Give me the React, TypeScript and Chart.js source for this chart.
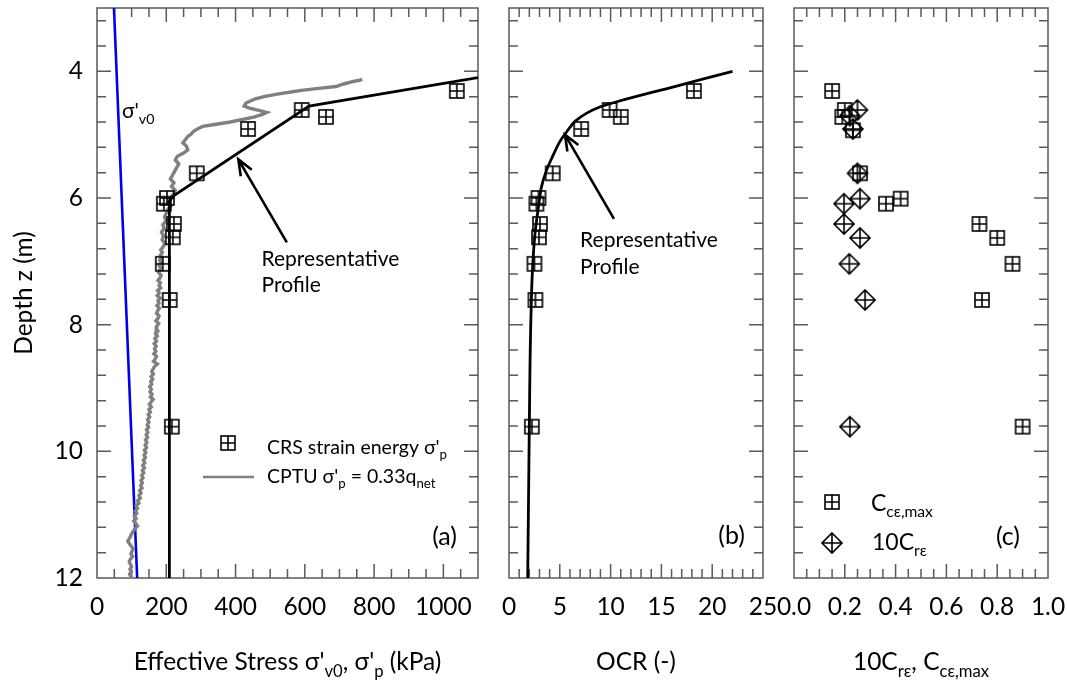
import React, { useEffect, useRef } from 'react';
import { Chart, registerables } from 'chart.js';
Chart.register(...registerables);

const W = 1067;
const H = 681;
const TOP = 8;
const BOTTOM = 578;
const FONT = 'Lato, "Open Sans", "DejaVu Sans", sans-serif';
const TICK_SIZE = 24.5;
const TITLE_SIZE = 24.5;
const NOTE_SIZE = 21;
const LEG_SIZE = 19.5;
const AXIS_COLOR = '#5a5a5a';

// ---------- data ----------
const depthMin = 3;
const depthMax = 12;
const depthTickLabels = [4, 6, 8, 10, 12];

const stressTicks = [0, 200, 400, 600, 800, 1000];
const ocrTicks = [0, 5, 10, 15, 20, 25];
const coefTicks = [0, 0.2, 0.4, 0.6, 0.8, 1.0];

// sigma'v0 line
const sv0Depth = [3, 12];
const sv0Stress = [49, 116];

// representative sigma'p profile
const profDepth = [4.1, 4.55, 5.97, 6.05, 12];
const profStress = [1100, 612, 220, 209, 209];

// CRS strain energy sigma'p
const crsDepth = [4.31, 4.61, 4.72, 4.91, 5.61, 6.0, 6.09, 6.41, 6.62, 7.04, 7.61, 9.61];
const crsStress = [1039, 591, 661, 436, 288, 202, 193, 222, 219, 190, 210, 216];
const crsOCR = [18.2, 9.9, 11.0, 7.1, 4.3, 2.9, 2.7, 3.05, 2.95, 2.5, 2.6, 2.25];

// CPTU sigma'p = 0.33 qnet
const cptuDepth = [
  4.13, 4.16, 4.2, 4.24, 4.27, 4.3, 4.33, 4.36, 4.4, 4.44, 4.5, 4.55, 4.58, 4.62, 4.65, 4.68, 4.72, 4.76,
  4.8, 4.84, 4.87, 4.91, 4.95, 4.99, 5.03, 5.08, 5.13, 5.18, 5.24, 5.29, 5.34, 5.4, 5.46, 5.52, 5.58, 5.64,
  5.7, 5.76, 5.82, 5.88, 5.94, 6.0, 6.06, 6.12, 6.18, 6.24, 6.3, 6.36, 6.42, 6.48, 6.54, 6.6, 6.66, 6.72,
  6.78, 6.82, 6.86, 6.9, 6.94, 6.98, 7.02, 7.06, 7.1, 7.14, 7.18, 7.22, 7.26, 7.3, 7.34, 7.38, 7.42, 7.46,
  7.5, 7.54, 7.58, 7.62, 7.66, 7.7, 7.74, 7.78, 7.82, 7.86, 7.9, 7.94, 7.98, 8.02, 8.06, 8.1, 8.14, 8.18,
  8.22, 8.26, 8.3, 8.34, 8.38, 8.42, 8.46, 8.5, 8.54, 8.58, 8.62, 8.66, 8.7, 8.74, 8.78, 8.82, 8.86, 8.9,
  8.94, 8.98, 9.02, 9.06, 9.1, 9.14, 9.18, 9.22, 9.26, 9.3, 9.34, 9.38, 9.42, 9.46, 9.5, 9.54, 9.58, 9.62,
  9.66, 9.7, 9.74, 9.78, 9.82, 9.86, 9.9, 9.94, 9.98, 10.02, 10.06, 10.1, 10.14, 10.18, 10.22, 10.26, 10.3,
  10.34, 10.38, 10.42, 10.46, 10.5, 10.54, 10.58, 10.62, 10.66, 10.7, 10.74, 10.78, 10.82, 10.86, 10.9,
  10.94, 10.98, 11.02, 11.06, 11.1, 11.14, 11.18, 11.22, 11.26, 11.3, 11.34, 11.38, 11.42, 11.46, 11.5,
  11.54, 11.58, 11.62, 11.66, 11.7, 11.74, 11.78, 11.82, 11.86, 11.9, 11.94, 11.98, 12.0,
];
const cptuStress = [
  766, 740, 712, 690, 640, 590, 555, 520, 482, 455, 430, 425, 440, 470, 490, 478, 455, 420,
  385, 340, 305, 290, 278, 272, 262, 255, 248, 258, 262, 250, 232, 226, 236, 230, 224, 218,
  212, 222, 215, 226, 220, 212, 206, 214, 204, 200, 195, 200, 190, 194, 186, 192, 188, 196,
  190, 184, 189, 183, 188, 181, 186, 179, 184, 181, 178, 185, 182, 176, 183, 179, 184, 175,
  180, 174, 182, 176, 179, 173, 180, 175, 172, 179, 176, 170, 178, 173, 171, 176, 169, 174,
  167, 172, 165, 171, 166, 170, 164, 172, 168, 163, 174, 166, 162, 158, 163, 156, 161, 155,
  158, 152, 157, 153, 159, 154, 162, 156, 151, 157, 150, 154, 148, 152, 146, 150, 145, 149,
  143, 147, 142, 146, 140, 144, 139, 143, 137, 141, 136, 140, 134, 138, 132, 137, 131,
  135, 129, 133, 127, 131, 126, 130, 123, 127, 121, 125, 117, 121, 113, 117,
  111, 115, 108, 113, 106, 112, 117, 110, 105, 100, 97, 93, 89, 94, 99,
  104, 101, 98, 103, 97, 93, 96, 100, 95, 99, 94, 98, 101,
];

// OCR representative curve
const ocrCurveDepth = [4.0, 4.24, 4.48, 4.56, 4.66, 4.79, 4.95, 5.11, 5.32, 5.56, 5.82, 6.14, 6.56, 7.08, 7.61, 8.5, 9.61, 10.8, 12.0];
const ocrCurveValue = [22.0, 16.3, 10.6, 9.0, 7.65, 6.5, 5.7, 5.0, 4.36, 3.7, 3.2, 2.9, 2.56, 2.33, 2.2, 2.08, 2.0, 1.92, 1.84];

// Cce,max and 10Cre
const cceDepth = [4.31, 4.61, 4.72, 4.93, 5.61, 6.01, 6.09, 6.41, 6.63, 7.04, 7.61, 9.61];
const cceValue = [0.15, 0.2, 0.19, 0.232, 0.26, 0.42, 0.362, 0.73, 0.8, 0.86, 0.74, 0.9];
const creDepth = [4.61, 4.7, 4.91, 5.61, 6.01, 6.09, 6.41, 6.63, 7.04, 7.61, 9.61];
const creValue = [0.25, 0.22, 0.232, 0.25, 0.26, 0.197, 0.197, 0.26, 0.218, 0.28, 0.22];

// ---------- helpers ----------
type Seg = { t: string; sub?: boolean };

const pts = (xs: number[], ys: number[]) => xs.map((x, i) => ({ x, y: ys[i] }));

function squareMarker(): HTMLCanvasElement {
  const c = document.createElement('canvas');
  c.width = 18;
  c.height = 18;
  const g = c.getContext('2d')!;
  g.strokeStyle = '#000';
  g.lineWidth = 1.6;
  g.strokeRect(2, 2, 14, 14);
  g.beginPath();
  g.moveTo(9, 2);
  g.lineTo(9, 16);
  g.moveTo(2, 9);
  g.lineTo(16, 9);
  g.stroke();
  return c;
}

function diamondMarker(): HTMLCanvasElement {
  const c = document.createElement('canvas');
  c.width = 24;
  c.height = 24;
  const g = c.getContext('2d')!;
  g.strokeStyle = '#000';
  g.lineWidth = 1.6;
  g.beginPath();
  g.moveTo(12, 2);
  g.lineTo(22, 12);
  g.lineTo(12, 22);
  g.lineTo(2, 12);
  g.closePath();
  g.moveTo(12, 2);
  g.lineTo(12, 22);
  g.moveTo(2, 12);
  g.lineTo(22, 12);
  g.stroke();
  return c;
}

function fontOf(size: number) {
  return `${size}px ${FONT}`;
}

function drawRich(ctx: CanvasRenderingContext2D, x: number, y: number, segs: Seg[], size: number, align: 'left' | 'center' | 'right' = 'left') {
  ctx.save();
  ctx.textAlign = 'left';
  ctx.textBaseline = 'alphabetic';
  ctx.fillStyle = '#000';
  let w = 0;
  for (const s of segs) {
    ctx.font = fontOf(s.sub ? size * 0.68 : size);
    w += ctx.measureText(s.t).width;
  }
  let cx = align === 'center' ? x - w / 2 : align === 'right' ? x - w : x;
  for (const s of segs) {
    const sz = s.sub ? size * 0.68 : size;
    ctx.font = fontOf(sz);
    ctx.fillText(s.t, cx, y + (s.sub ? size * 0.28 : 0));
    cx += ctx.measureText(s.t).width;
  }
  ctx.restore();
}

function drawArrow(ctx: CanvasRenderingContext2D, x0: number, y0: number, x1: number, y1: number) {
  const ang = Math.atan2(y1 - y0, x1 - x0);
  const L = 17;
  const h = (22 * Math.PI) / 180;
  ctx.save();
  ctx.strokeStyle = '#000';
  ctx.lineWidth = 2.6;
  ctx.lineCap = 'butt';
  ctx.beginPath();
  ctx.moveTo(x0, y0);
  ctx.lineTo(x1, y1);
  ctx.moveTo(x1 - L * Math.cos(ang - h), y1 - L * Math.sin(ang - h));
  ctx.lineTo(x1, y1);
  ctx.lineTo(x1 - L * Math.cos(ang + h), y1 - L * Math.sin(ang + h));
  ctx.stroke();
  ctx.restore();
}

type PanelCfg = {
  left: number;
  right: number;
  xMin: number;
  xMax: number;
  xTicks: number[];
  xMinor: number;
  xMajor: number;
  fmt: (v: number) => string;
  showY: boolean;
};

function drawFrame(chart: any, p: PanelCfg) {
  const { ctx, chartArea: a, scales } = chart;
  const xs = scales.x;
  const ys = scales.y;
  const MAJ = 14;
  const MIN = 9;
  ctx.save();
  ctx.strokeStyle = AXIS_COLOR;
  ctx.lineWidth = 1.5;
  ctx.beginPath();
  const n = Math.round((p.xMax - p.xMin) / p.xMinor);
  for (let i = 1; i < n; i++) {
    const v = p.xMin + i * p.xMinor;
    const r = v / p.xMajor;
    const L = Math.abs(r - Math.round(r)) < 1e-6 ? MAJ : MIN;
    const px = xs.getPixelForValue(v);
    ctx.moveTo(px, a.bottom);
    ctx.lineTo(px, a.bottom - L);
    ctx.moveTo(px, a.top);
    ctx.lineTo(px, a.top + L);
  }
  for (let i = 1; i <= 22; i++) {
    const v = 12 - i * 0.4;
    const r = v / 2;
    const L = Math.abs(r - Math.round(r)) < 1e-6 ? MAJ : MIN;
    const py = ys.getPixelForValue(v);
    ctx.moveTo(a.left, py);
    ctx.lineTo(a.left + L, py);
    ctx.moveTo(a.right, py);
    ctx.lineTo(a.right - L, py);
  }
  ctx.stroke();
  ctx.strokeRect(a.left, a.top, a.right - a.left, a.bottom - a.top);
  ctx.restore();
}

function makeChart(canvas: HTMLCanvasElement, p: PanelCfg, datasets: any[], extra: (chart: any) => void) {
  return new Chart(canvas, {
    type: 'scatter',
    data: { datasets },
    options: {
      animation: false,
      responsive: false,
      events: [],
      layout: { padding: { left: p.showY ? 0 : p.left, right: W - p.right, top: TOP, bottom: 0 } },
      plugins: { legend: { display: false }, tooltip: { enabled: false } },
      scales: {
        x: {
          type: 'linear',
          min: p.xMin,
          max: p.xMax,
          grid: { display: false, drawTicks: false },
          border: { display: false },
          ticks: {
            font: { family: FONT, size: TICK_SIZE },
            color: '#000',
            padding: 14,
            maxRotation: 0,
            minRotation: 0,
            autoSkip: false,
            callback: (v: any) => p.fmt(Number(v)),
          },
          afterBuildTicks: (s: any) => {
            s.ticks = p.xTicks.map((v) => ({ value: v }));
          },
          afterFit: (s: any) => {
            s.height = H - BOTTOM;
            s.paddingLeft = 0;
            s.paddingRight = 0;
            s.paddingTop = 0;
            s.paddingBottom = 0;
          },
        },
        y: {
          type: 'linear',
          min: depthMin,
          max: depthMax,
          reverse: true,
          display: p.showY,
          grid: { display: false, drawTicks: false },
          border: { display: false },
          ticks: {
            font: { family: FONT, size: TICK_SIZE },
            color: '#000',
            padding: 14,
            autoSkip: false,
          },
          afterBuildTicks: (s: any) => {
            s.ticks = depthTickLabels.map((v) => ({ value: v }));
          },
          afterFit: (s: any) => {
            s.width = p.showY ? p.left : 0;
            s.paddingLeft = 0;
            s.paddingRight = 0;
            s.paddingTop = 0;
            s.paddingBottom = 0;
          },
        },
      },
    } as any,
    plugins: [
      {
        id: 'frame',
        beforeDatasetsDraw: (chart: any) => drawFrame(chart, p),
        afterDatasetsDraw: (chart: any) => extra(chart),
      },
    ],
  });
}

const panelA: PanelCfg = { left: 97, right: 478, xMin: 0, xMax: 1100, xTicks: stressTicks, xMinor: 50, xMajor: 200, fmt: (v) => String(v), showY: true };
const panelB: PanelCfg = { left: 509, right: 763, xMin: 0, xMax: 25, xTicks: ocrTicks, xMinor: 1, xMajor: 5, fmt: (v) => String(v), showY: false };
const panelC: PanelCfg = { left: 794, right: 1048, xMin: 0, xMax: 1, xTicks: coefTicks, xMinor: 0.05, xMajor: 0.2, fmt: (v) => v.toFixed(1), showY: false };

export default function App() {
  const refA = useRef<HTMLCanvasElement>(null);
  const refB = useRef<HTMLCanvasElement>(null);
  const refC = useRef<HTMLCanvasElement>(null);

  useEffect(() => {
    const sq = squareMarker();
    const dm = diamondMarker();
    const line = (data: any[], color: string, width: number, extra: any = {}) => ({
      data,
      showLine: true,
      borderColor: color,
      borderWidth: width,
      pointRadius: 0,
      fill: false,
      ...extra,
    });
    const marks = (data: any[], style: HTMLCanvasElement) => ({
      data,
      showLine: false,
      pointStyle: style,
      pointRadius: 8,
      pointBorderWidth: 0,
    });

    const chartA = makeChart(
      refA.current!,
      panelA,
      [
        marks(pts(crsStress, crsDepth), sq),
        line(pts(profStress, profDepth), '#000', 2.8),
        line(pts(cptuStress, cptuDepth), '#808080', 3.4),
        line(pts(sv0Stress, sv0Depth), '#0000ee', 2.6),
      ],
      (chart) => {
        const { ctx, chartArea: a, scales } = chart;
        const xs = scales.x;
        const ys = scales.y;
        // y title
        ctx.save();
        ctx.translate(24, (a.top + a.bottom) / 2);
        ctx.rotate(-Math.PI / 2);
        ctx.font = fontOf(TITLE_SIZE);
        ctx.fillStyle = '#000';
        ctx.textAlign = 'center';
        ctx.textBaseline = 'middle';
        ctx.fillText('Depth z (m)', 0, 0);
        ctx.restore();
        // x title
        drawRich(
          ctx,
          (a.left + a.right) / 2,
          670,
          [{ t: "Effective Stress σ'" }, { t: 'v0', sub: true }, { t: ", σ'" }, { t: 'p', sub: true }, { t: ' (kPa)' }],
          TITLE_SIZE,
          'center'
        );
        // sigma'v0 label
        drawRich(ctx, xs.getPixelForValue(72), ys.getPixelForValue(4.74), [{ t: "σ'" }, { t: 'v0', sub: true }], 21);
        // annotation
        drawRich(ctx, xs.getPixelForValue(475), ys.getPixelForValue(7.07), [{ t: 'Representative' }], NOTE_SIZE);
        drawRich(ctx, xs.getPixelForValue(475), ys.getPixelForValue(7.48), [{ t: 'Profile' }], NOTE_SIZE);
        drawArrow(ctx, xs.getPixelForValue(548), ys.getPixelForValue(6.7), xs.getPixelForValue(408), ys.getPixelForValue(5.39));
        // legend
        ctx.drawImage(sq, a.left + 131 - 9, 443 - 9);
        drawRich(ctx, a.left + 170, 454, [{ t: "CRS strain energy σ'" }, { t: 'p', sub: true }], LEG_SIZE);
        ctx.save();
        ctx.strokeStyle = '#808080';
        ctx.lineWidth = 2.5;
        ctx.beginPath();
        ctx.moveTo(a.left + 106, 477);
        ctx.lineTo(a.left + 157, 477);
        ctx.stroke();
        ctx.restore();
        drawRich(ctx, a.left + 170, 483, [{ t: "CPTU σ'" }, { t: 'p', sub: true }, { t: ' = 0.33q' }, { t: 'net', sub: true }], LEG_SIZE);
        drawRich(ctx, a.right - 21, 545, [{ t: '(a)' }], 25, 'right');
      }
    );

    const chartB = makeChart(
      refB.current!,
      panelB,
      [
        marks(pts(crsOCR, crsDepth), sq),
        line(pts(ocrCurveValue, ocrCurveDepth), '#000', 2.8, { tension: 0.35 }),
      ],
      (chart) => {
        const { ctx, chartArea: a, scales } = chart;
        const xs = scales.x;
        const ys = scales.y;
        drawRich(ctx, (a.left + a.right) / 2, 670, [{ t: 'OCR (-)' }], TITLE_SIZE, 'center');
        drawRich(ctx, xs.getPixelForValue(7.0), ys.getPixelForValue(6.77), [{ t: 'Representative' }], NOTE_SIZE);
        drawRich(ctx, xs.getPixelForValue(7.0), ys.getPixelForValue(7.2), [{ t: 'Profile' }], NOTE_SIZE);
        drawArrow(ctx, xs.getPixelForValue(10.33), ys.getPixelForValue(6.33), xs.getPixelForValue(5.51), ys.getPixelForValue(5.0));
        drawRich(ctx, a.right - 18, 544, [{ t: '(b)' }], 25, 'right');
      }
    );

    const chartC = makeChart(
      refC.current!,
      panelC,
      [marks(pts(creValue, creDepth), dm), marks(pts(cceValue, cceDepth), sq)],
      (chart) => {
        const { ctx, chartArea: a } = chart;
        drawRich(
          ctx,
          (a.left + a.right) / 2,
          670,
          [{ t: '10C' }, { t: 'rε', sub: true }, { t: ', C' }, { t: 'cε,max', sub: true }],
          TITLE_SIZE,
          'center'
        );
        ctx.drawImage(sq, a.left + 38 - 9, 502 - 9);
        drawRich(ctx, a.left + 77, 511, [{ t: 'C' }, { t: 'cε,max', sub: true }], 23);
        ctx.drawImage(dm, a.left + 38 - 12, 543 - 12);
        drawRich(ctx, a.left + 78, 550, [{ t: '10C' }, { t: 'rε', sub: true }], 23);
        drawRich(ctx, a.right - 28, 545, [{ t: '(c)' }], 25, 'right');
      }
    );

    return () => {
      chartA.destroy();
      chartB.destroy();
      chartC.destroy();
    };
  }, []);

  const cs: React.CSSProperties = { position: 'absolute', left: 0, top: 0, width: W, height: H };
  return (
    <div style={{ position: 'absolute', left: 0, top: 0, width: W, height: H, background: '#fff' }}>
      <canvas ref={refA} width={W} height={H} style={cs} />
      <canvas ref={refB} width={W} height={H} style={cs} />
      <canvas ref={refC} width={W} height={H} style={cs} />
    </div>
  );
}
